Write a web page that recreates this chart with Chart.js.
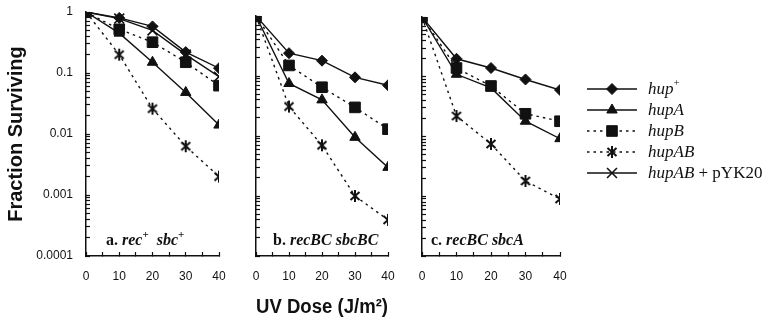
<!DOCTYPE html>
<html>
<head>
<meta charset="utf-8">
<script src="https://cdn.jsdelivr.net/npm/chart.js@4.4.0/dist/chart.umd.min.js"></script>
<style>
  html, body { margin: 0; padding: 0; background: #fff; }
  #wrap { position: relative; width: 768px; height: 330px; }
  .panel { position: absolute; left: 0; top: 0; width: 768px; height: 330px; }
</style>
</head>
<body>
<div id="wrap">
  <div class="panel"><canvas id="chartA" width="768" height="330"></canvas></div>
  <div class="panel"><canvas id="chartB" width="768" height="330"></canvas></div>
  <div class="panel"><canvas id="chartC" width="768" height="330"></canvas></div>
</div>
<script>
// UV dose (J/m2)
const doses = [0, 10, 20, 30, 40];
const decades = [0.0001, 0.001, 0.01, 0.1, 1];

// a. rec+ sbc+
const hupPlusA = [1, 0.8, 0.58, 0.22, 0.12];
const hupA_A = [1, 0.45, 0.15, 0.048, 0.014];
const hupB_A = [1, 0.52, 0.32, 0.15, 0.062];
const hupAB_A = [1, 0.2, 0.026, 0.0063, 0.002];
const hupABpYK_A = [1, 0.78, 0.5, 0.2, 0.087];

// b. recBC sbcBC
const hupPlusB = [1, 0.24, 0.18, 0.095, 0.07];
const hupA_B = [1, 0.075, 0.04, 0.0095, 0.003];
const hupB_B = [1, 0.15, 0.065, 0.03, 0.013];
const hupAB_B = [1, 0.031, 0.007, 0.001, 0.0004];

// c. recBC sbcA
const hupPlusC = [1, 0.2, 0.14, 0.09, 0.06];
const hupA_C = [1, 0.11, 0.065, 0.018, 0.0092];
const hupB_C = [1, 0.14, 0.07, 0.024, 0.018];
const hupAB_C = [1, 0.022, 0.0075, 0.0018, 0.0009];

const black = '#111';
const sans = 'Liberation Sans';
const serif = 'Liberation Serif';

function makeAsterisk() {
  const c = document.createElement('canvas');
  c.width = 14; c.height = 14;
  const g = c.getContext('2d');
  g.strokeStyle = black;
  g.lineWidth = 2;
  g.beginPath();
  g.moveTo(2.5, 3); g.lineTo(11.5, 11);
  g.moveTo(11.5, 3); g.lineTo(2.5, 11);
  g.moveTo(7, 1); g.lineTo(7, 13);
  g.stroke();
  return c;
}
const asterisk = makeAsterisk();

const styles = {
  hupPlus: { pointStyle: 'rectRot', radius: 5.5, dashed: false, border: 1 },
  hupA: { pointStyle: 'triangle', radius: 6, dashed: false, border: 1 },
  hupB: { pointStyle: 'rect', radius: 7.5, dashed: true, border: 1 },
  hupAB: { pointStyle: asterisk, radius: 6, dashed: true, border: 1 },
  hupABpYK: { pointStyle: 'crossRot', radius: 7, dashed: false, border: 1.6 }
};

function series(label, values, key) {
  const s = styles[key];
  return {
    label: label,
    data: doses.map((d, i) => ({ x: d, y: values[i] })),
    borderColor: black,
    backgroundColor: black,
    borderWidth: 1.4,
    borderDash: s.dashed ? [2.5, 4] : [],
    tension: 0,
    fill: false,
    pointStyle: s.pointStyle,
    pointRadius: s.radius,
    pointBorderWidth: s.border,
    pointBorderColor: black,
    pointBackgroundColor: black
  };
}

function drawRuns(ctx, x, y, runs) {
  runs.forEach(r => {
    ctx.font = r.font;
    ctx.fillText(r.text, x, y + (r.dy || 0));
    x += ctx.measureText(r.text).width;
  });
}

const lblUp = 'bold 16px "' + serif + '"';
const lblIt = 'italic bold 16px "' + serif + '"';
const lblSup = 'bold 11px "' + serif + '"';

function panelLabel(x, runs) {
  return {
    id: 'panelLabel',
    afterDraw(chart) {
      const ctx = chart.ctx;
      ctx.save();
      ctx.fillStyle = black;
      ctx.textBaseline = 'alphabetic';
      drawRuns(ctx, x, 245, runs);
      ctx.restore();
    }
  };
}

const legendRows = [
  { key: 'hupPlus', runs: [{ text: 'hup', it: true }, { text: '+', sup: true }] },
  { key: 'hupA', runs: [{ text: 'hupA', it: true }] },
  { key: 'hupB', runs: [{ text: 'hupB', it: true }] },
  { key: 'hupAB', runs: [{ text: 'hupAB', it: true }] },
  { key: 'hupABpYK', runs: [{ text: 'hupAB', it: true }, { text: ' + pYK20' }] }
];
const legendY = [89, 110, 131, 152, 173];

const legendPlugin = {
  id: 'sideLegend',
  afterDraw(chart) {
    const ctx = chart.ctx;
    ctx.save();
    legendRows.forEach((row, i) => {
      const s = styles[row.key];
      const y = legendY[i];
      ctx.strokeStyle = black;
      ctx.fillStyle = black;
      ctx.lineWidth = 1.4;
      ctx.setLineDash(s.dashed ? [2.5, 4] : []);
      ctx.beginPath();
      ctx.moveTo(587, y); ctx.lineTo(637, y);
      ctx.stroke();
      ctx.setLineDash([]);
      ctx.lineWidth = s.border;
      Chart.helpers.drawPoint(ctx, { pointStyle: s.pointStyle, radius: s.radius, rotation: 0, borderWidth: s.border }, 612, y);
      ctx.textBaseline = 'alphabetic';
      drawRuns(ctx, 648, y + 5, row.runs.map(r => ({
        text: r.text,
        font: (r.sup ? '11px' : (r.it ? 'italic 17px' : '17px')) + ' "' + serif + '"',
        dy: r.sup ? -8 : 0
      })));
    });
    ctx.restore();
  }
};

function makePanel(id, datasets, box, opts) {
  const minorTicks = [];
  decades.forEach(d => {
    if (d === 1) { minorTicks.push(1); return; }
    for (let k = 1; k <= 9; k++) minorTicks.push(+(k * d).toPrecision(3));
  });
  const tickFont = { family: sans, size: 12 };
  return new Chart(document.getElementById(id), {
    type: 'line',
    data: { datasets: datasets },
    plugins: opts.plugins,
    options: {
      responsive: false,
      animation: false,
      events: [],
      layout: { padding: box },
      plugins: { legend: { display: false }, tooltip: { enabled: false } },
      scales: {
        x: {
          type: 'linear',
          min: 0, max: 40,
          afterFit(scale) {
            scale.height = 74;
            scale.paddingLeft = 0; scale.paddingRight = 0;
          },
          grid: { drawOnChartArea: false, tickLength: -4, tickColor: black, tickWidth: 1.2 },
          border: { color: black, width: 1.5 },
          ticks: {
            stepSize: 5, autoSkip: false, maxRotation: 0, padding: 17, color: black, font: tickFont,
            callback: v => (v % 10 === 0 ? String(v) : '')
          },
          title: opts.xTitle ? {
            display: true, text: opts.xTitle, color: black,
            font: { family: sans, size: 20, weight: 'bold' }, padding: { top: 0, bottom: 11 }
          } : { display: false }
        },
        y: {
          type: 'logarithmic',
          min: 0.0001, max: 1,
          afterFit(scale) {
            scale.width = opts.yWidth;
            scale.paddingTop = 0; scale.paddingBottom = 0;
          },
          afterBuildTicks(scale) { scale.ticks = minorTicks.map(v => ({ value: v })); },
          grid: { drawOnChartArea: false, tickLength: -4, tickColor: black, tickWidth: 1.2 },
          border: { color: black, width: 1.5 },
          ticks: {
            autoSkip: false, padding: 17, color: black, font: tickFont,
            callback: v => {
              if (!opts.yLabels) return '';
              const e = Math.log10(v);
              return Math.abs(e - Math.round(e)) < 1e-6 ? String(+v.toPrecision(1)) : '';
            }
          },
          title: opts.yTitle ? {
            display: true, text: opts.yTitle, color: black,
            font: { family: sans, size: 20, weight: 'bold' }, padding: { top: 4, bottom: 0 }
          } : { display: false }
        }
      }
    }
  });
}

makePanel('chartA', [
  series('hup+', hupPlusA, 'hupPlus'),
  series('hupAB + pYK20', hupABpYK_A, 'hupABpYK'),
  series('hupA', hupA_A, 'hupA'),
  series('hupB', hupB_A, 'hupB'),
  series('hupAB', hupAB_A, 'hupAB')
], { left: 0, right: 549, top: 12, bottom: 0 }, {
  yWidth: 86, yLabels: true, yTitle: 'Fraction Surviving',
  plugins: [panelLabel(106, [
    { text: 'a. ', font: lblUp }, { text: 'rec', font: lblIt }, { text: '+', font: lblSup, dy: -7 },
    { text: '  sbc', font: lblIt }, { text: '+', font: lblSup, dy: -7 }
  ])]
});

makePanel('chartB', [
  series('hup+', hupPlusB, 'hupPlus'),
  series('hupA', hupA_B, 'hupA'),
  series('hupB', hupB_B, 'hupB'),
  series('hupAB', hupAB_B, 'hupAB')
], { left: 250, right: 380, top: 16, bottom: 0 }, {
  yWidth: 6, yLabels: false, xTitle: 'UV Dose (J/m²)',
  plugins: [panelLabel(273, [{ text: 'b. ', font: lblUp }, { text: 'recBC sbcBC', font: lblIt }])]
});

makePanel('chartC', [
  series('hup+', hupPlusC, 'hupPlus'),
  series('hupA', hupA_C, 'hupA'),
  series('hupB', hupB_C, 'hupB'),
  series('hupAB', hupAB_C, 'hupAB')
], { left: 416, right: 208, top: 17, bottom: 0 }, {
  yWidth: 6, yLabels: false,
  plugins: [panelLabel(431, [{ text: 'c. ', font: lblUp }, { text: 'recBC sbcA', font: lblIt }]), legendPlugin]
});
</script>
</body>
</html>
